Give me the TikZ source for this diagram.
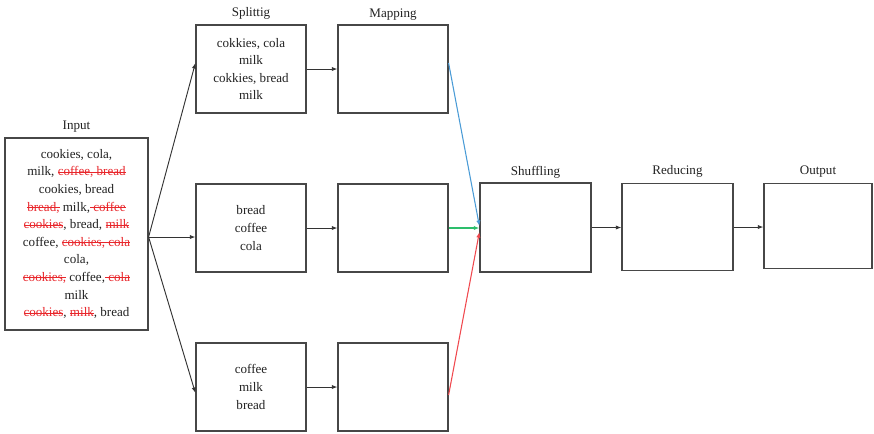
\documentclass[tikz,border=0pt]{standalone}
\usepackage{fontspec}
\setmainfont{Liberation Serif}
\usetikzlibrary{arrows.meta,calc}
\definecolor{txt}{HTML}{222222}
\definecolor{strk}{HTML}{E8262B}
\definecolor{lblue}{HTML}{4A9BD6}
\definecolor{lgreen}{HTML}{2DBE6C}
\definecolor{lred}{HTML}{F0484E}
\newcommand\rst[1]{{\color{strk}\setbox0\hbox{#1}\rlap{\rule[0.26em]{\wd0}{0.6pt}}\box0}}
\begin{document}
\begin{tikzpicture}[x=0.75pt,y=-0.75pt,
  font=\fontsize{9.8}{13.2}\selectfont,
  box/.style={draw=black!72, line width=0.9pt, minimum width=82.5pt, minimum height=66pt, inner sep=0pt, align=center, text=txt},
  ttl/.style={text=txt, inner sep=0pt},
  arr/.style={draw=black!80, line width=0.7pt, -{Latex[length=4.2pt,width=3.2pt]}},
  carr/.style={line width=0.8pt, -{Latex[length=4.2pt,width=3.2pt]}}]
\useasboundingbox (0,0) rectangle (874,433);
% boxes
\node[box, minimum width=107.25pt, minimum height=144pt] (in) at (76.5,234)
  {cookies, cola,\\ milk, \rst{coffee, bread}\\ cookies, bread\\ \rst{bread,} milk,\rst{ coffee}\\
   \rst{cookies}, bread, \rst{milk}\\ coffee, \rst{cookies, cola}\\ cola,\\ \rst{cookies,} coffee,\rst{ cola}\\
   milk\\ \rst{cookies}, \rst{milk}, bread};
\node[box] (s1) at (251,69) {cokkies, cola\\ milk\\ cokkies, bread\\ milk};
\node[box] (m1) at (393,69) {};
\node[box] (s2) at (251,228) {bread\\ coffee\\ cola};
\node[box] (m2) at (393,228) {};
\node[box] (s3) at (251,387) {coffee\\ milk\\ bread};
\node[box] (m3) at (393,387) {};
\node[box, minimum width=83.25pt, minimum height=66.75pt] (sh) at (535.5,227.5) {};
\node[box, minimum width=83.25pt, minimum height=65.25pt] (re) at (677.5,227) {};
\node[box, minimum width=81pt, minimum height=63.75pt] (out) at (818,226) {};
% titles
\node[ttl] (tin) at (76.5,127) {Input};
\node[ttl] (ts) at (251,13) {Splittig};
\node[ttl] (tm) at (393,15) {Mapping};
\node[ttl] (tsh) at (535.5,172) {Shuffling};
\node[ttl] (tre) at (677.5,171) {Reducing};
\node[ttl] (tout) at (818,172) {Output};
% connectors
\coordinate (fork) at ($(in.east)+(0,3)$);
\draw[arr] (fork) -- ($(s1.west)+(0,-6)$);
\draw[arr] (fork) -- ($(s2.west)+(0,9)$);
\draw[arr] (fork) -- ($(s3.west)+(0,6)$);
\draw[arr] (s1.east) -- (m1.west);
\draw[arr] (s2.east) -- (m2.west);
\draw[arr] (s3.east) -- (m3.west);
\draw[carr, lblue] ($(m1.east)+(0,-6)$) -- ($(sh.west)+(0,-1.5)$);
\draw[carr, lgreen] (m2.east) -- ($(sh.west)+(0,0.5)$);
\draw[carr, lred] ($(m3.east)+(0,8)$) -- ($(sh.west)+(0,4.5)$);
\draw[arr] (sh.east) -- (sh.east -| re.west);
\draw[arr] (re.east) -- (re.east -| out.west);
\end{tikzpicture}
\end{document}
